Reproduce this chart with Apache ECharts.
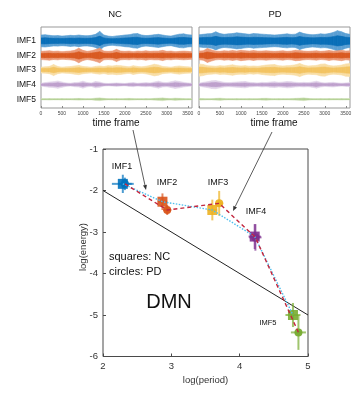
<!DOCTYPE html>
<html><head><meta charset="utf-8">
<script src="https://cdn.jsdelivr.net/npm/echarts@6/dist/echarts.min.js"></script>
<style>html,body{margin:0;padding:0;background:#fff}#c{width:360px;height:400px}</style>
</head><body><div id="c"></div>
<script>
// ---------- top panels: amplitude envelopes of each IMF ----------
const timeFrames = [0,100,200,300,400,500,600,700,800,900,1000,1100,1200,1300,1400,1500,1600,1700,1800,1900,2000,2100,2200,2300,2400,2500,2600,2700,2800,2900,3000,3100,3200,3300,3400,3500,3600];
const timeTicks = [0,500,1000,1500,2000,2500,3000,3500];
const imfNames = ['IMF1','IMF2','IMF3','IMF4','IMF5'];
const imfLevels = [5,4,3,2,1];

const ncIMF1 = [0.40,0.42,0.38,0.35,0.36,0.33,0.35,0.38,0.36,0.40,0.36,0.35,0.38,0.45,0.65,0.40,0.33,0.30,0.34,0.36,0.40,0.42,0.48,0.50,0.40,0.36,0.38,0.42,0.45,0.40,0.35,0.33,0.40,0.46,0.48,0.42,0.40];
const ncIMF2 = [0.28,0.30,0.32,0.28,0.30,0.26,0.28,0.30,0.35,0.50,0.35,0.28,0.32,0.40,0.50,0.30,0.28,0.30,0.42,0.30,0.28,0.30,0.26,0.30,0.28,0.32,0.28,0.30,0.30,0.35,0.28,0.30,0.26,0.28,0.30,0.28,0.26];
const ncIMF3 = [0.20,0.22,0.25,0.38,0.25,0.20,0.22,0.24,0.28,0.32,0.25,0.22,0.20,0.25,0.28,0.24,0.30,0.28,0.32,0.30,0.26,0.22,0.30,0.25,0.22,0.26,0.32,0.40,0.35,0.25,0.22,0.20,0.25,0.28,0.24,0.22,0.20];
const ncIMF4 = [0.10,0.14,0.18,0.20,0.25,0.18,0.12,0.10,0.14,0.16,0.24,0.15,0.12,0.22,0.18,0.10,0.08,0.10,0.12,0.10,0.08,0.12,0.14,0.10,0.12,0.14,0.12,0.18,0.24,0.16,0.14,0.20,0.26,0.22,0.16,0.12,0.10];
const ncIMF5 = [0.04,0.04,0.05,0.04,0.04,0.05,0.04,0.04,0.05,0.06,0.05,0.04,0.04,0.08,0.10,0.06,0.04,0.04,0.05,0.04,0.05,0.06,0.05,0.04,0.04,0.05,0.04,0.06,0.08,0.10,0.06,0.05,0.08,0.06,0.05,0.04,0.04];

const pdIMF1 = [0.42,0.45,0.48,0.50,0.62,0.50,0.45,0.48,0.50,0.55,0.52,0.48,0.45,0.50,0.48,0.46,0.44,0.42,0.40,0.42,0.45,0.48,0.44,0.46,0.60,0.50,0.45,0.42,0.44,0.48,0.46,0.50,0.58,0.70,0.62,0.50,0.45];
const pdIMF2 = [0.30,0.32,0.48,0.38,0.30,0.28,0.32,0.30,0.34,0.30,0.36,0.32,0.30,0.34,0.30,0.30,0.32,0.30,0.28,0.30,0.32,0.28,0.30,0.36,0.34,0.30,0.28,0.30,0.32,0.28,0.30,0.34,0.30,0.32,0.36,0.30,0.32];
const pdIMF3 = [0.42,0.38,0.30,0.28,0.26,0.30,0.28,0.32,0.36,0.30,0.28,0.30,0.26,0.28,0.26,0.30,0.34,0.36,0.38,0.30,0.28,0.30,0.32,0.36,0.45,0.34,0.28,0.30,0.32,0.40,0.42,0.32,0.28,0.30,0.34,0.42,0.45];
const pdIMF4 = [0.10,0.16,0.20,0.26,0.28,0.22,0.16,0.14,0.16,0.18,0.20,0.22,0.16,0.14,0.12,0.16,0.14,0.18,0.20,0.16,0.18,0.22,0.20,0.16,0.14,0.16,0.14,0.18,0.24,0.16,0.12,0.14,0.16,0.12,0.10,0.12,0.14];
const pdIMF5 = [0.06,0.05,0.04,0.04,0.06,0.08,0.05,0.04,0.04,0.05,0.04,0.04,0.05,0.04,0.04,0.06,0.07,0.05,0.04,0.05,0.04,0.04,0.05,0.06,0.08,0.10,0.06,0.04,0.04,0.05,0.04,0.05,0.04,0.04,0.05,0.04,0.04];

// ---------- bottom panel: log(period) vs log(energy) ----------
const ncLogPeriod = [2.29, 2.87, 3.60, 4.22, 4.78];
const ncLogEnergy = [-1.84, -2.27, -2.47, -3.11, -5.00];
const ncPeriodErr = [0.16, 0.07, 0.07, 0.09, 0.11];
const ncEnergyErr = [0.22, 0.20, 0.25, 0.30, 0.29];
const pdLogPeriod = [2.32, 2.94, 3.70, 4.23, 4.86];
const pdLogEnergy = [-1.84, -2.47, -2.31, -3.13, -5.42];
const pdPeriodErr = [0.10, 0.06, 0.06, 0.09, 0.11];
const pdEnergyErr = [0.15, 0.12, 0.30, 0.32, 0.42];
const refLogPeriod = [2, 5];
const refLogEnergy = [-2, -5];

// ---------- styles ----------
const FONT = 'Liberation Sans, Arial, sans-serif';
const imfColors = ['#0072BD', '#D95319', '#EDB120', '#7E2F8E', '#77AC30'];
const bandOuter = ['#5a9fd3', '#eb9a78', '#f8dea6', '#e1d3e9', '#dde9cc'];
const bandInner = ['#0a6fb8', '#d95a22', '#f3c463', '#bea0cc', '#b0cf90'];

function bandSeries(env, level, gridIdx, scale, color) {
  const data = [];
  for (let i = 0; i < timeFrames.length - 1; i++) {
    data.push([timeFrames[i], level, timeFrames[i + 1], env[i], env[i + 1]]);
  }
  return {
    type: 'custom', xAxisIndex: gridIdx, yAxisIndex: gridIdx, silent: true,
    encode: { x: [0, 2], y: 1 }, clip: true,
    data: data,
    renderItem: function (params, api) {
      const t0 = api.value(0), c = api.value(1), t1 = api.value(2);
      const a0 = api.value(3) * scale, a1 = api.value(4) * scale;
      const p = [api.coord([t0, c - a0]), api.coord([t1, c - a1]), api.coord([t1, c + a1]), api.coord([t0, c + a0])];
      return { type: 'polygon', shape: { points: p }, style: { fill: color, stroke: color, lineWidth: 0.6 } };
    }
  };
}

const ncEnvs = [ncIMF1, ncIMF2, ncIMF3, ncIMF4, ncIMF5];
const pdEnvs = [pdIMF1, pdIMF2, pdIMF3, pdIMF4, pdIMF5];
const series = [];
[ncEnvs, pdEnvs].forEach(function (envs, g) {
  envs.forEach(function (env, k) {
    series.push(bandSeries(env, imfLevels[k], g, 1, bandOuter[k]));
    series.push(bandSeries(env, imfLevels[k], g, 0.5, bandInner[k]));
  });
});

function errSeries(xs, ys, xe, ye) {
  return {
    type: 'custom', xAxisIndex: 2, yAxisIndex: 2, silent: true, z: 3,
    encode: { x: 0, y: 1 },
    data: xs.map(function (x, i) { return [x, ys[i], xe[i], ye[i]]; }),
    renderItem: function (params, api) {
      const x = api.value(0), y = api.value(1), dx = api.value(2), dy = api.value(3);
      const col = imfColors[params.dataIndex];
      const h0 = api.coord([x - dx, y]), h1 = api.coord([x + dx, y]);
      const v0 = api.coord([x, y - dy]), v1 = api.coord([x, y + dy]);
      return { type: 'group', children: [
        { type: 'line', shape: { x1: h0[0], y1: h0[1], x2: h1[0], y2: h1[1] }, style: { stroke: col, lineWidth: 2, opacity: 0.7 } },
        { type: 'line', shape: { x1: v0[0], y1: v0[1], x2: v1[0], y2: v1[1] }, style: { stroke: col, lineWidth: 2, opacity: 0.7 } }
      ] };
    }
  };
}

series.push({
  type: 'line', xAxisIndex: 2, yAxisIndex: 2, z: 2, silent: true, symbol: 'none',
  data: refLogPeriod.map(function (x, i) { return [x, refLogEnergy[i]]; }),
  lineStyle: { color: '#222', width: 1 }
});
series.push(errSeries(ncLogPeriod, ncLogEnergy, ncPeriodErr, ncEnergyErr));
series.push(errSeries(pdLogPeriod, pdLogEnergy, pdPeriodErr, pdEnergyErr));
series.push({
  type: 'scatter', xAxisIndex: 2, yAxisIndex: 2, z: 4, symbol: 'rect', symbolSize: 10, silent: true,
  data: ncLogPeriod.map(function (x, i) { return [x, ncLogEnergy[i]]; }),
  itemStyle: { color: function (p) { return imfColors[p.dataIndex]; }, opacity: 0.9 }
});
series.push({
  type: 'scatter', xAxisIndex: 2, yAxisIndex: 2, z: 4, symbol: 'circle', symbolSize: 8, silent: true,
  data: pdLogPeriod.map(function (x, i) { return [x, pdLogEnergy[i]]; }),
  itemStyle: { color: function (p) { return imfColors[p.dataIndex]; }, opacity: 0.95 }
});
series.push({
  type: 'line', xAxisIndex: 2, yAxisIndex: 2, z: 5, silent: true, symbol: 'none',
  data: ncLogPeriod.map(function (x, i) { return [x, ncLogEnergy[i]]; }),
  lineStyle: { color: '#4DBEEE', width: 1.4, type: [1.5, 1.5] }
});
series.push({
  type: 'line', xAxisIndex: 2, yAxisIndex: 2, z: 6, silent: true, symbol: 'none',
  data: pdLogPeriod.map(function (x, i) { return [x, pdLogEnergy[i]]; }),
  lineStyle: { color: '#C2263E', width: 1.4, type: [4, 3] }
});

const topX = function (idx) {
  return {
    type: 'value', gridIndex: idx, min: 0, max: 3600, interval: 500,
    axisLine: { show: false }, splitLine: { show: false },
    axisTick: { inside: true, length: 2, lineStyle: { color: '#888' } },
    axisLabel: { fontSize: 5, color: '#444', margin: 3, fontFamily: FONT, showMaxLabel: false,
      formatter: function (v) { return String(v); } }
  };
};
const topY = function (idx, labels) {
  return {
    type: 'value', gridIndex: idx, min: 0.4, max: 5.95,
    axisLine: { show: false }, splitLine: { show: false }, axisTick: { show: false },
    axisLabel: {
      show: labels, customValues: imfLevels, fontSize: 8.5, color: '#111', margin: 5, fontFamily: FONT,
      formatter: function (v) { return imfNames[imfLevels.indexOf(Math.round(v))]; }
    }
  };
};

const chart = echarts.init(document.getElementById('c'), null, { renderer: 'canvas' });

function arrow(x1, y1, x2, y2) {
  const ang = Math.atan2(y2 - y1, x2 - x1), L = 5, W = 2;
  const bx = x2 - L * Math.cos(ang), by = y2 - L * Math.sin(ang);
  const nx = -Math.sin(ang) * W, ny = Math.cos(ang) * W;
  return [
    { type: 'line', shape: { x1: x1, y1: y1, x2: bx, y2: by }, style: { stroke: '#333', lineWidth: 0.8 }, z: 20 },
    { type: 'polygon', shape: { points: [[x2, y2], [bx + nx, by + ny], [bx - nx, by - ny]] }, style: { fill: '#333' }, z: 20 }
  ];
}
const txt = function (x, y, t, size, align, fill) {
  return { type: 'text', x: x, y: y, z: 20, style: { text: t, fontSize: size, fontFamily: FONT, fill: fill || '#111', align: align || 'center', verticalAlign: 'middle' } };
};
const yName = txt(83, 247, 'log(energy)', 9.5, 'center', '#333');
yName.rotation = Math.PI / 2;

const graphic = [
  txt(115, 14, 'NC', 9.5), txt(275, 14, 'PD', 9.5),
  txt(116, 123, 'time frame', 10), txt(274, 123, 'time frame', 10),
  txt(122, 167, 'IMF1', 9), txt(167, 183, 'IMF2', 9), txt(218, 183, 'IMF3', 9), txt(256, 212, 'IMF4', 9),
  txt(268, 323, 'IMF5', 7.5),
  txt(109, 257, 'squares: NC', 11, 'left'), txt(109, 272, 'circles: PD', 11, 'left'),
  txt(169, 302, 'DMN', 20), yName
].concat(arrow(133, 130, 146, 190)).concat(arrow(272, 132, 233, 211));

chart.setOption({
  animation: false,
  grid: [
    { left: 41, top: 27, width: 151, height: 81, show: true, borderColor: '#999', borderWidth: 1 },
    { left: 199, top: 27, width: 151, height: 81, show: true, borderColor: '#999', borderWidth: 1 },
    { left: 103, top: 149, width: 205, height: 207.5, show: true, borderColor: '#4a4a4a', borderWidth: 1 }
  ],
  xAxis: [topX(0), topX(1), {
    type: 'value', gridIndex: 2, min: 2, max: 5, interval: 1,
    name: 'log(period)', nameLocation: 'middle', nameGap: 19, nameMoveOverlap: false,
    nameTextStyle: { fontSize: 9.5, color: '#333', fontFamily: FONT },
    axisLine: { show: false }, splitLine: { show: false },
    axisTick: { inside: true, length: 3, lineStyle: { color: '#4a4a4a' } },
    axisLabel: { fontSize: 9.5, color: '#333', margin: 5, fontFamily: FONT }
  }],
  yAxis: [topY(0, true), topY(1, false), {
    type: 'value', gridIndex: 2, min: -6, max: -1, interval: 1,
    axisLine: { show: false }, splitLine: { show: false },
    axisTick: { inside: true, length: 3, lineStyle: { color: '#4a4a4a' } },
    axisLabel: { fontSize: 9.5, color: '#333', margin: 5, fontFamily: FONT }
  }],
  series: series,
  graphic: graphic
});
</script></body></html>
